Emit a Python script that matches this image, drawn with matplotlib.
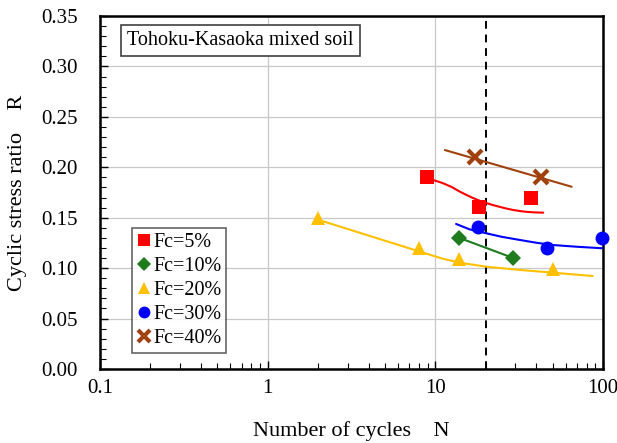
import matplotlib
matplotlib.use("Agg")
import matplotlib.pyplot as plt
from matplotlib.ticker import MultipleLocator, LogLocator, FixedLocator, FixedFormatter, NullFormatter

plt.rcParams['font.family'] = ['Liberation Serif', 'DejaVu Serif']

# Measured points
fc5_n = [8.9, 18.2, 37.2]
fc5_r = [0.190, 0.161, 0.170]
fc10_n = [13.9, 29.2]
fc10_r = [0.130, 0.110]
fc20_n = [2.0, 8.0, 13.9, 50.0]
fc20_r = [0.150, 0.120, 0.109, 0.099]
fc30_n = [17.9, 46.1, 98.9]
fc30_r = [0.141, 0.120, 0.130]
fc40_n = [17.2, 42.6]
fc40_r = [0.210, 0.190]

# Fitted curves
fit5_n = [9.71, 11.0, 12.5, 14.02, 15.5, 16.83, 18.5, 20.2, 22.0, 24.3, 26.5, 29.1, 32.0, 35.0, 39.0, 44.0]
fit5_r = [0.1874, 0.1845, 0.1805, 0.1758, 0.1722, 0.1694, 0.1667, 0.1645, 0.1626, 0.1607, 0.1591, 0.1577, 0.1566, 0.1558, 0.1553, 0.155]
fit10_n = [13.9, 29.2]
fit10_r = [0.130, 0.110]
fit20_n = [2.0, 8.1, 11.0, 14.0, 20.2, 32.0, 50.5, 86.7]
fit20_r = [0.148, 0.1163, 0.1095, 0.1054, 0.1014, 0.0982, 0.0955, 0.0922]
fit30_n = [13.3, 16.0, 20.2, 25.0, 32.0, 40.0, 50.5, 70.0, 99.5]
fit30_r = [0.1438, 0.1385, 0.1345, 0.131, 0.1279, 0.1252, 0.1229, 0.1212, 0.1197]
fit40_n = [11.4, 65.0]
fit40_r = [0.2171, 0.1807]

n_limit = 20

labels = ['Fc=5%', 'Fc=10%', 'Fc=20%', 'Fc=30%', 'Fc=40%']
colors = ['#FF0000', '#1E7B1E', '#FFC000', '#0000FF', '#A0410D']

fig = plt.figure(figsize=(6.17, 4.43), dpi=100)
ax = fig.add_axes([100/617, 1-369/443, 503/617, 353/443])

ax.set_xscale('log')
ax.set_xlim(0.1, 100)
ax.set_ylim(0, 0.35)

ax.grid(True, which='major', color='#C8C8C8', linewidth=0.9)
ax.set_axisbelow(True)

ax.axvline(n_limit, color='black', linestyle=(0, (4, 3)), linewidth=1.4, zorder=2)

fits = [(fit5_n, fit5_r), (fit10_n, fit10_r), (fit20_n, fit20_r), (fit30_n, fit30_r), (fit40_n, fit40_r)]
for (fn, fr), c in zip(fits, colors):
    ax.plot(fn, fr, color=c, linewidth=1.5, zorder=3, solid_capstyle='round', solid_joinstyle='round')

pts = [(fc5_n, fc5_r, 's', 10, 0), (fc10_n, fc10_r, 'D', 8.5, 0), (fc20_n, fc20_r, '^', 10.5, 0),
       (fc30_n, fc30_r, 'o', 10, 0), (fc40_n, fc40_r, 'x', 10, 3)]
handles = []
for (n, r, m, ms, mew), c, lab in zip(pts, colors, labels):
    if m == 'x':
        h, = ax.plot(n, r, linestyle='none', marker=m, markersize=ms, markeredgewidth=mew,
                     color=c, label=lab, zorder=4, clip_on=False)
    else:
        h, = ax.plot(n, r, linestyle='none', marker=m, markersize=ms, markeredgewidth=0,
                     color=c, label=lab, zorder=4, clip_on=False)
    handles.append(h)

for s in ax.spines.values():
    s.set_linewidth(1.8)
    s.set_color('black')

ax.yaxis.set_major_locator(MultipleLocator(0.05))
ax.yaxis.set_minor_locator(MultipleLocator(0.01))
ax.yaxis.set_major_formatter(plt.FuncFormatter(lambda v, p: f'{v:.2f}'))
ax.xaxis.set_major_locator(FixedLocator([0.1, 1, 10, 100]))
ax.xaxis.set_major_formatter(FixedFormatter(['0.1', '1', '10', '100']))
ax.xaxis.set_minor_locator(LogLocator(base=10, subs=range(2, 10)))
ax.xaxis.set_minor_formatter(NullFormatter())
ax.tick_params(which='both', direction='in', labelsize=15)
ax.tick_params(which='major', length=6, width=1)
ax.tick_params(which='minor', length=4, width=0.8)
ax.tick_params(axis='y', pad=16)
ax.tick_params(axis='x', pad=7)

ax.set_xlabel('Number of cycles    N', fontsize=16, labelpad=17)
ax.set_ylabel('Cyclic stress ratio    R', fontsize=16, labelpad=10)

ax.text(0.145, 0.3255, 'Tohoku-Kasaoka mixed soil', fontsize=14.5,
        bbox=dict(boxstyle='square,pad=0.3', facecolor='white', edgecolor='#404040', linewidth=1.2),
        va='center', ha='left', zorder=5)

leg = ax.legend(handles=handles, loc='upper left', bbox_to_anchor=(32/503, (369-228)/353), fontsize=14.5,
                frameon=True, fancybox=False, edgecolor='#404040', handlelength=0.7,
                handletextpad=0.1, borderpad=0.25, labelspacing=0.24, borderaxespad=0, markerscale=0.85)
leg.get_frame().set_linewidth(1.2)

fig.savefig('out.png', dpi=100)
